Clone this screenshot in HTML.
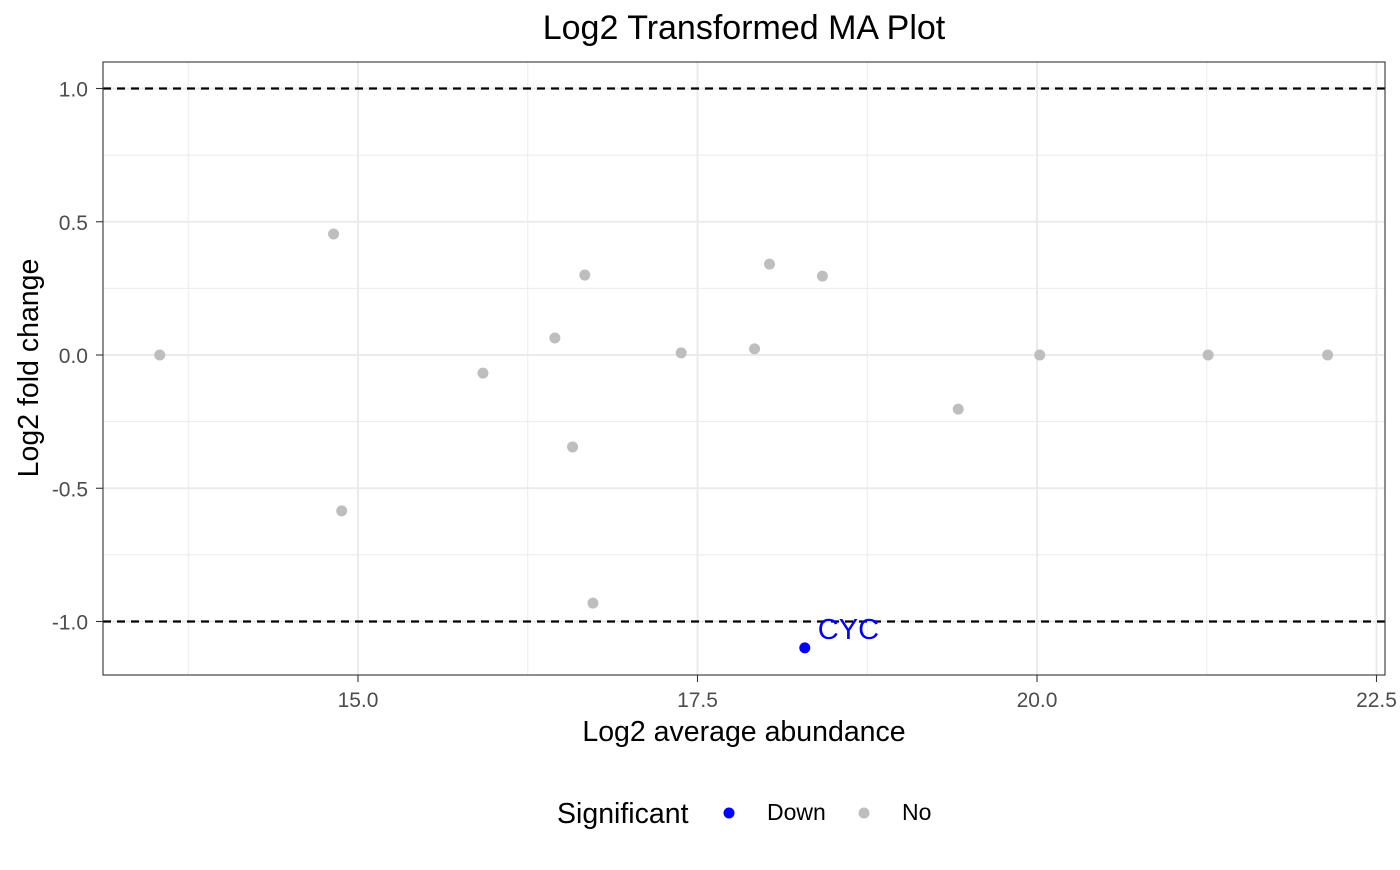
<!DOCTYPE html>
<html><head><meta charset="utf-8"><style>
body{margin:0;background:#fff;font-family:"Liberation Sans",Arial,sans-serif;}
svg text{font-family:"Liberation Sans",Arial,sans-serif;}
</style></head><body>
<svg id="chart" width="1400" height="865" xmlns="http://www.w3.org/2000/svg">
<rect width="1400" height="865" fill="#fff"/>
<text x="744" y="39" font-size="34" text-anchor="middle" fill="#000">Log2 Transformed MA Plot</text>
<g id="grid"></g>
<g id="ref"></g>
<g id="pts"></g>
<rect x="103" y="62" width="1282" height="613" fill="none" stroke="#333" stroke-width="1.1"/>
<g id="axes"></g>
<text x="744" y="741" font-size="28.5" text-anchor="middle" fill="#000">Log2 average abundance</text>
<text transform="translate(38,368) rotate(-90)" font-size="28.5" text-anchor="middle" fill="#000">Log2 fold change</text>
<g>
<text x="557" y="823" font-size="28.5" fill="#000">Significant</text>
<circle cx="729" cy="813" r="5.5" fill="#0000ff"/>
<text x="767" y="820" font-size="23" fill="#000">Down</text>
<circle cx="864" cy="813" r="5.5" fill="#bebebe"/>
<text x="902" y="820" font-size="23" fill="#000">No</text>
</g>
</svg>
<script>
const xTicks=[15.0,17.5,20.0,22.5];
const xTickLabels=["15.0","17.5","20.0","22.5"];
const xMinor=[13.75,16.25,18.75,21.25];
const yTicks=[1.0,0.5,0.0,-0.5,-1.0];
const yTickLabels=["1.0","0.5","0.0","-0.5","-1.0"];
const yMinor=[0.75,0.25,-0.25,-0.75];
const thresholds=[1,-1];
const noX=[13.54,14.82,14.88,15.92,16.45,16.58,16.67,16.73,17.38,17.92,18.03,18.42,19.42,20.02,21.26,22.14];
const noY=[0,0.454,-0.585,-0.068,0.064,-0.345,0.300,-0.931,0.008,0.023,0.341,0.296,-0.203,0,0,0];
const downX=[18.29];
const downY=[-1.099];
const downLabels=["CYC"];
const NS="http://www.w3.org/2000/svg";
const L=103,R=1385,T=62,B=675;
function sx(v){return 358+(v-15)*135.8;}
function sy(v){return 355-v*266.5;}
function mk(tag,attrs,parent){const e=document.createElementNS(NS,tag);for(const k in attrs)e.setAttribute(k,attrs[k]);parent.appendChild(e);return e;}
const grid=document.getElementById('grid'),axes=document.getElementById('axes'),ref=document.getElementById('ref'),pts=document.getElementById('pts');
xMinor.forEach(v=>{const e=mk('line',{x1:sx(v),x2:sx(v),y1:T,y2:B,stroke:'#ebebeb','stroke-width':1},grid);

});
yMinor.forEach(v=>{const e=mk('line',{x1:L,x2:R,y1:sy(v),y2:sy(v),stroke:'#ebebeb','stroke-width':1},grid);

});
xTicks.forEach((v,i)=>{const e=mk('line',{x1:sx(v),x2:sx(v),y1:T,y2:B,stroke:'#ebebeb','stroke-width':2},grid);


const t=mk('line',{x1:sx(v),x2:sx(v),y1:B,y2:B+7,stroke:'#333','stroke-width':1.1},axes);


const l=mk('text',{x:sx(v),y:B+32,'font-size':21,'text-anchor':'middle',fill:'#4d4d4d'},axes);l.textContent=xTickLabels[i];

});
yTicks.forEach((v,i)=>{const e=mk('line',{x1:L,x2:R,y1:sy(v),y2:sy(v),stroke:'#ebebeb','stroke-width':2},grid);


const t=mk('line',{x1:L-7,x2:L,y1:sy(v),y2:sy(v),stroke:'#333','stroke-width':1.1},axes);


const l=mk('text',{x:L-15,y:sy(v)+8,'font-size':21,'text-anchor':'end',fill:'#4d4d4d'},axes);l.textContent=yTickLabels[i];

});
thresholds.forEach(v=>{const e=mk('line',{x1:L,x2:R,y1:sy(v),y2:sy(v),stroke:'#000','stroke-width':2.2,'stroke-dasharray':'8,6'},ref);

});
noX.forEach((v,i)=>{const c=mk('circle',{cx:sx(v),cy:sy(noY[i]),r:5.5,fill:'#bebebe'},pts);

});
downX.forEach((v,i)=>{const c=mk('circle',{cx:sx(v),cy:sy(downY[i]),r:5.5,fill:'#0000ff'},pts);


const t=mk('text',{x:sx(v)+13,y:sy(downY[i])-9,'font-size':29,fill:'#0000ff'},pts);t.textContent=downLabels[i];

});
</script>
</body></html>
